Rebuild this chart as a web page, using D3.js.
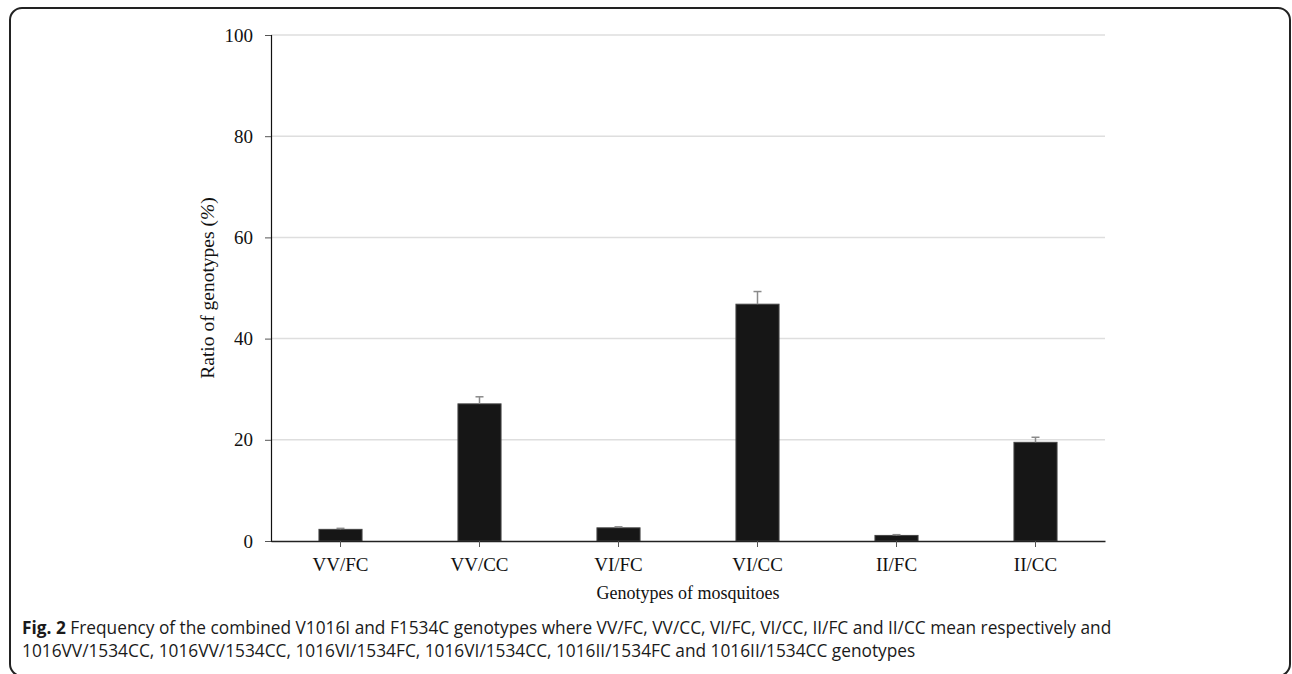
<!DOCTYPE html>
<html>
<head>
<meta charset="utf-8">
<script src="https://cdn.jsdelivr.net/npm/d3@7"></script>
<style>
  body { margin: 0; background: #fff; }
</style>
</head>
<body>
<svg id="chart" width="1292" height="674"></svg>
<script>
// genotype data
const genotypes = ["VV/FC", "VV/CC", "VI/FC", "VI/CC", "II/FC", "II/CC"];
const ratios = [2.3, 27.1, 2.6, 46.8, 1.1, 19.5];
const errors = [0.2, 1.4, 0.2, 2.5, 0.15, 1.0];
const yTicks = [0, 20, 40, 60, 80, 100];

const svg = d3.select("#chart");
const serif = "'Liberation Serif', 'DejaVu Serif', serif";

const plotLeft = 271, plotRight = 1105, plotTop = 35, plotBottom = 541;

// frame round the figure
svg.append("rect")
    .attr("x", 10).attr("y", 8)
    .attr("width", 1280).attr("height", 668)
    .attr("rx", 12)
    .attr("fill", "none")
    .attr("stroke", "#222")
    .attr("stroke-width", 2);

const xScale = d3.scaleBand()
    .domain(genotypes)
    .range([plotLeft, plotRight])
    .paddingInner(0.69)
    .paddingOuter(0.345);

const yScale = d3.scaleLinear()
    .domain([0, 100])
    .range([plotBottom, plotTop]);

// gridlines
svg.append("g")
    .selectAll("line")
    .data(yTicks.filter(d => d > 0))
    .join("line")
    .attr("x1", plotLeft).attr("x2", plotRight)
    .attr("y1", d => yScale(d)).attr("y2", d => yScale(d))
    .attr("stroke", "#dedede")
    .attr("stroke-width", 1.5);

// Y axis
const yAxis = svg.append("g")
    .attr("transform", "translate(" + plotLeft + ",0)")
    .call(d3.axisLeft(yScale).tickValues(yTicks).tickSize(6).tickPadding(12));
yAxis.select(".domain").attr("stroke", "#111").attr("stroke-width", 1.2);
yAxis.selectAll(".tick line").attr("stroke", "#555");
yAxis.selectAll("text")
    .attr("font-family", serif)
    .attr("font-size", 19)
    .attr("fill", "#111");

// bars
svg.append("g")
    .selectAll("rect")
    .data(genotypes)
    .join("rect")
    .attr("x", d => xScale(d))
    .attr("width", xScale.bandwidth())
    .attr("y", (d, i) => yScale(ratios[i]))
    .attr("height", (d, i) => yScale(0) - yScale(ratios[i]))
    .attr("fill", "#161616")
    .attr("stroke", "#444")
    .attr("stroke-width", 1);

// error bars (upper only)
const err = svg.append("g").attr("stroke", "#8a8a8a").attr("stroke-width", 1.5);
genotypes.forEach((g, i) => {
    const cx = xScale(g) + xScale.bandwidth() / 2;
    err.append("line")
        .attr("x1", cx).attr("x2", cx)
        .attr("y1", yScale(ratios[i])).attr("y2", yScale(ratios[i] + errors[i]));
    err.append("line")
        .attr("x1", cx - 4).attr("x2", cx + 4)
        .attr("y1", yScale(ratios[i] + errors[i])).attr("y2", yScale(ratios[i] + errors[i]));
});

// X axis
const xAxis = svg.append("g")
    .attr("transform", "translate(0," + plotBottom + ")")
    .call(d3.axisBottom(xScale).tickSize(6).tickSizeOuter(0).tickPadding(11));
xAxis.select(".domain").attr("stroke", "#222").attr("stroke-width", 1.5);
xAxis.selectAll(".tick line").attr("stroke", "#555");
xAxis.selectAll("text")
    .attr("font-family", serif)
    .attr("font-size", 19)
    .attr("fill", "#111");

// axis titles
svg.append("text")
    .attr("x", (plotLeft + plotRight) / 2)
    .attr("y", 599)
    .attr("text-anchor", "middle")
    .attr("font-family", serif)
    .attr("font-size", 18)
    .attr("fill", "#111")
    .text("Genotypes of mosquitoes");

const yTitle = svg.append("text")
    .attr("transform", "translate(214," + ((plotTop + plotBottom) / 2) + ") rotate(-90)")
    .attr("text-anchor", "middle")
    .attr("font-family", serif)
    .attr("font-size", 19.5)
    .attr("fill", "#111");
yTitle.append("tspan").text("Ratio of genotypes (");
yTitle.append("tspan").attr("font-style", "italic").text("%");
yTitle.append("tspan").text(")");

// caption
const cap = svg.append("g")
    .attr("font-family", "'Open Sans', 'Noto Sans', sans-serif")
    .attr("font-size", 17.3)
    .attr("fill", "#1a1a1a");
const line1 = cap.append("text").attr("x", 22).attr("y", 634);
line1.append("tspan").attr("font-weight", "bold").text("Fig. 2");
line1.append("tspan").text(" Frequency of the combined V1016I and F1534C genotypes where VV/FC, VV/CC, VI/FC, VI/CC, II/FC and II/CC mean respectively and");
cap.append("text").attr("x", 22).attr("y", 657)
    .text("1016VV/1534CC, 1016VV/1534CC, 1016VI/1534FC, 1016VI/1534CC, 1016II/1534FC and 1016II/1534CC genotypes");
</script>
</body>
</html>
